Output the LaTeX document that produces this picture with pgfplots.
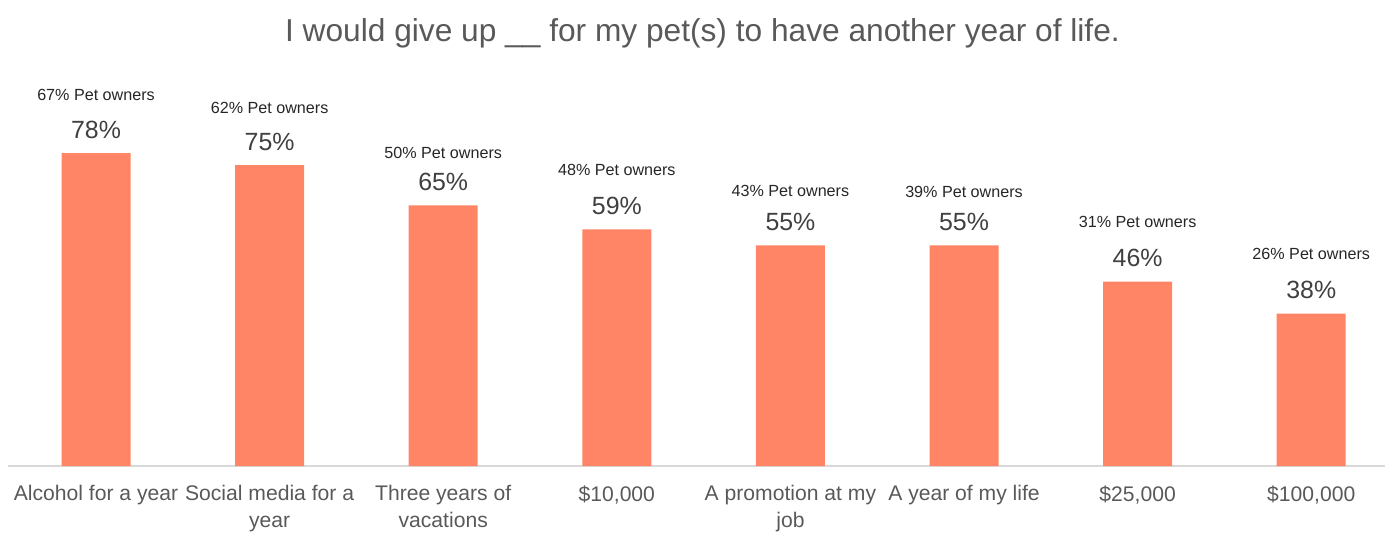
\documentclass[border=0pt]{standalone}
\usepackage{pgfplots}
\pgfplotsset{compat=1.18}
\usepackage{pgfplotstable}
\usepackage{fontspec}
\setmainfont{Liberation Sans}
\definecolor{barc}{HTML}{FF8566}
\definecolor{txtgray}{HTML}{595959}
\definecolor{valgray}{HTML}{404040}
\definecolor{axgray}{HTML}{D9D9D9}
\pgfplotstableread{
x y owners off
0 78 67 26
1 75 62 25.5
2 65 50 23
3 59 48 26.5
4 55 43 24
5 55 39 23.5
6 46 31 26.5
7 38 26 27
}\datatable
\begin{document}
\begin{tikzpicture}
\begin{axis}[
  at={(0,0)}, anchor=south west,
  scale only axis,
  width=688.5bp, height=200.5bp,
  xmin=-0.507, xmax=7.425,
  ymin=0, ymax=100,
  axis x line=bottom, axis y line=none,
  axis line style={-, draw=axgray, line width=0.8bp},
  xtick=data,
  xticklabels={Alcohol for a year, Social media for a\\year, Three years of\\vacations, {\$10,000}, A promotion at my\\job, A year of my life, {\$25,000}, {\$100,000}},
  xtick style={draw=none},
  major tick length=0pt,
  xticklabel style={font=\fontsize{10.6}{13.2}\selectfont, align=center, text=txtgray, anchor=north, inner sep=0pt, yshift=-9.5bp},
  ytick=\empty,
  clip=false,
  /pgf/number format/assume math mode=true,
]
\addplot[ybar, bar width=34.5bp, bar shift=0pt, fill=barc, draw=none,
  nodes near coords={\pgfmathprintnumber{\pgfplotspointmeta}\%},
  every node near coord/.append style={font=\fontsize{12.5}{14}\selectfont, text=valgray, anchor=south, inner sep=0pt, yshift=7bp}]
  table[x=x, y=y] {\datatable};
\addplot[draw=none, mark=none, point meta=explicit symbolic,
  visualization depends on={\thisrow{off} \as \myoff},
  nodes near coords={\pgfplotspointmeta\% Pet owners},
  every node near coord/.append style={font=\fontsize{8.1}{9.5}\selectfont, text=black!85, anchor=south, inner sep=0pt, yshift=\myoff bp}]
  table[x=x, y=y, meta=owners] {\datatable};
\end{axis}
\node[anchor=base, font=\fontsize{15.9}{18}\selectfont, text=txtgray, inner sep=0pt] at (347.25bp,212bp) {I would give up \_\_ for my pet(s) to have another year of life.};
\pgfresetboundingbox
\path[use as bounding box] (-4bp,-43.5bp) rectangle (692bp,233bp);
\end{tikzpicture}
\end{document}
